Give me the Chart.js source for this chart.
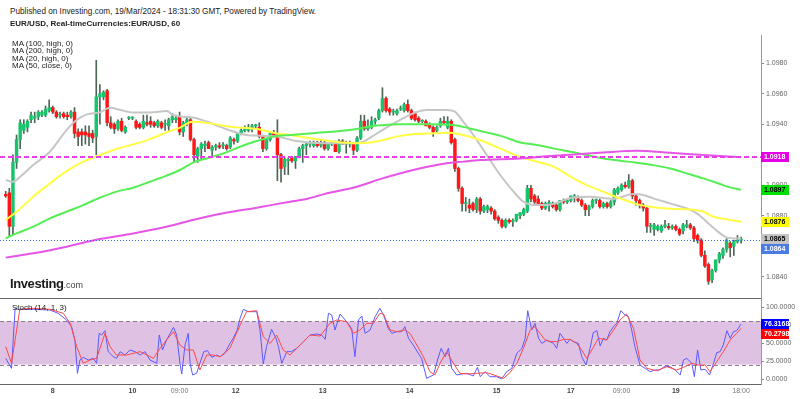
<!DOCTYPE html>
<html><head><meta charset="utf-8">
<script src="https://cdn.jsdelivr.net/npm/chart.js@4"></script>
<style>
html,body{margin:0;padding:0;background:#fff;width:800px;height:399px;overflow:hidden;font-family:Arial,"Liberation Sans",sans-serif;}
.t{position:absolute;white-space:nowrap;line-height:8px;color:#222;z-index:5;}
canvas{position:absolute;left:0;display:block;}
</style></head><body>
<canvas id="c1" width="800" height="263" style="top:35px"></canvas>
<canvas id="c2" width="800" height="101" style="top:298px"></canvas>
<div class="t" style="left:10px;top:8px;font-size:8.2px;">Published on Investing.com, 19/Mar/2024 - 18:31:30 GMT, Powered by TradingView.</div>
<div class="t" style="left:10px;top:20px;font-size:8px;font-weight:bold;">EUR/USD, Real-timeCurrencies:EUR/USD, 60</div>
<div class="t" style="left:12px;top:40px;font-size:8px;line-height:7.3px;">MA (100, high, 0)<br>MA (200, high, 0)<br>MA (20, high, 0)<br>MA (50, close, 0)</div>
<div class="t" style="left:10px;top:276px;line-height:13px;"><span style="font-size:13px;font-weight:bold;letter-spacing:-0.4px;color:#1a1a1a;">Investing</span><span style="font-size:9px;color:#444;">.com</span></div>
<div class="t" style="left:12px;top:304px;font-size:8px;">Stoch (14, 1, 3)</div>
<script>
// ---- candles (hourly EUR/USD) ----
const open = [1.0894,1.0895,1.0873,1.0915,1.0930,1.0936,1.0938,1.0943,1.0944,1.0945,
1.0946,1.0946,1.0949,1.0951,1.0948,1.0946,1.0947,1.0946,1.0945,1.0948,
1.0935,1.0935,1.0935,1.0934,1.0934,1.0932,1.0958,1.0958,1.0962,1.0941,
1.0940,1.0937,1.0942,1.0935,1.0944,1.0944,1.0942,1.0940,1.0938,1.0941,
1.0942,1.0941,1.0939,1.0941,1.0940,1.0939,1.0943,1.0943,1.0945,1.0935,
1.0941,1.0943,1.0930,1.0919,1.0924,1.0926,1.0928,1.0923,1.0925,1.0926,
1.0926,1.0926,1.0925,1.0930,1.0929,1.0934,1.0936,1.0936,1.0937,1.0939,
1.0938,1.0932,1.0924,1.0930,1.0934,1.0933,1.0920,1.0912,1.0916,1.0918,
1.0916,1.0919,1.0924,1.0926,1.0927,1.0926,1.0928,1.0926,1.0928,1.0924,
1.0927,1.0928,1.0922,1.0929,1.0927,1.0927,1.0927,1.0923,1.0931,1.0942,
1.0937,1.0938,1.0942,1.0944,1.0949,1.0957,1.0950,1.0948,1.0947,1.0950,
1.0949,1.0953,1.0949,1.0947,1.0944,1.0942,1.0942,1.0940,1.0938,1.0936,
1.0939,1.0942,1.0938,1.0942,1.0930,1.0911,1.0898,1.0888,1.0887,1.0888,
1.0884,1.0891,1.0883,1.0884,1.0885,1.0883,1.0879,1.0877,1.0873,1.0877,
1.0876,1.0877,1.0880,1.0881,1.0883,1.0898,1.0893,1.0891,1.0888,1.0885,
1.0888,1.0888,1.0887,1.0884,1.0890,1.0889,1.0890,1.0892,1.0891,1.0890,
1.0887,1.0884,1.0886,1.0890,1.0890,1.0886,1.0888,1.0886,1.0889,1.0895,
1.0897,1.0900,1.0899,1.0903,1.0893,1.0890,1.0887,1.0885,1.0873,1.0871,
1.0871,1.0870,1.0873,1.0873,1.0872,1.0873,1.0871,1.0870,1.0873,1.0874,
1.0872,1.0867,1.0864,1.0854,1.0848,1.0838,1.0844,1.0851,1.0854,1.0858,
1.0862,1.0860,1.0863,1.0864];
const high = [1.0896,1.0898,1.0920,1.0933,1.0943,1.0943,1.0943,1.0948,1.0948,1.0949,
1.0949,1.0952,1.0956,1.0952,1.0949,1.0948,1.0948,1.0948,1.0949,1.0951,
1.0937,1.0937,1.0939,1.0939,1.0936,1.0982,1.0966,1.0962,1.0963,1.0945,
1.0941,1.0943,1.0944,1.0939,1.0945,1.0945,1.0943,1.0941,1.0946,1.0946,
1.0945,1.0942,1.0943,1.0942,1.0943,1.0944,1.0947,1.0946,1.0948,1.0942,
1.0944,1.0944,1.0931,1.0925,1.0928,1.0929,1.0929,1.0926,1.0927,1.0928,
1.0928,1.0927,1.0932,1.0931,1.0934,1.0937,1.0939,1.0940,1.0940,1.0940,
1.0941,1.0933,1.0930,1.0935,1.0936,1.0943,1.0921,1.0918,1.0918,1.0918,
1.0919,1.0925,1.0927,1.0928,1.0929,1.0929,1.0929,1.0930,1.0929,1.0927,
1.0929,1.0929,1.0930,1.0930,1.0929,1.0929,1.0928,1.0932,1.0946,1.0946,
1.0943,1.0945,1.0944,1.0950,1.0964,1.0958,1.0951,1.0950,1.0950,1.0952,
1.0954,1.0956,1.0950,1.0948,1.0945,1.0943,1.0943,1.0941,1.0939,1.0939,
1.0944,1.0945,1.0945,1.0943,1.0931,1.0912,1.0899,1.0892,1.0891,1.0889,
1.0892,1.0892,1.0887,1.0887,1.0886,1.0884,1.0880,1.0878,1.0878,1.0878,
1.0878,1.0881,1.0882,1.0885,1.0900,1.0900,1.0894,1.0893,1.0889,1.0889,
1.0890,1.0889,1.0888,1.0890,1.0891,1.0891,1.0893,1.0894,1.0893,1.0891,
1.0888,1.0887,1.0891,1.0891,1.0891,1.0889,1.0889,1.0890,1.0898,1.0899,
1.0901,1.0902,1.0907,1.0904,1.0894,1.0891,1.0888,1.0886,1.0875,1.0875,
1.0874,1.0874,1.0877,1.0875,1.0874,1.0874,1.0872,1.0875,1.0877,1.0875,
1.0873,1.0868,1.0865,1.0857,1.0849,1.0845,1.0851,1.0856,1.0859,1.0865,
1.0863,1.0864,1.0867,1.0866];
const low = [1.0892,1.0867,1.0868,1.0911,1.0924,1.0934,1.0935,1.0941,1.0941,1.0943,
1.0945,1.0945,1.0948,1.0947,1.0944,1.0944,1.0944,1.0943,1.0944,1.0931,
1.0926,1.0926,1.0927,1.0926,1.0928,1.0920,1.0940,1.0956,1.0939,1.0937,
1.0934,1.0936,1.0935,1.0934,1.0943,1.0943,1.0937,1.0937,1.0937,1.0939,
1.0938,1.0938,1.0938,1.0937,1.0936,1.0936,1.0941,1.0941,1.0933,1.0932,
1.0939,1.0929,1.0915,1.0915,1.0917,1.0922,1.0924,1.0919,1.0923,1.0924,
1.0924,1.0923,1.0924,1.0927,1.0928,1.0933,1.0935,1.0935,1.0935,1.0937,
1.0931,1.0922,1.0923,1.0929,1.0932,1.0903,1.0902,1.0907,1.0907,1.0915,
1.0911,1.0918,1.0915,1.0920,1.0925,1.0925,1.0925,1.0925,1.0923,1.0923,
1.0926,1.0922,1.0921,1.0927,1.0921,1.0925,1.0920,1.0922,1.0930,1.0936,
1.0936,1.0937,1.0940,1.0943,1.0948,1.0948,1.0946,1.0946,1.0946,1.0949,
1.0948,1.0948,1.0943,1.0942,1.0941,1.0941,1.0939,1.0937,1.0932,1.0935,
1.0938,1.0940,1.0937,1.0927,1.0909,1.0896,1.0883,1.0883,1.0882,1.0883,
1.0882,1.0881,1.0882,1.0882,1.0881,1.0877,1.0875,1.0872,1.0872,1.0875,
1.0873,1.0876,1.0878,1.0880,1.0882,1.0889,1.0888,1.0887,1.0884,1.0884,
1.0883,1.0885,1.0883,1.0883,1.0888,1.0888,1.0889,1.0889,1.0889,1.0886,
1.0880,1.0880,1.0885,1.0888,1.0885,1.0885,1.0885,1.0885,1.0887,1.0894,
1.0896,1.0898,1.0898,1.0891,1.0887,1.0885,1.0883,1.0869,1.0869,1.0867,
1.0870,1.0869,1.0872,1.0871,1.0871,1.0870,1.0867,1.0868,1.0872,1.0871,
1.0863,1.0862,1.0853,1.0846,1.0835,1.0836,1.0843,1.0849,1.0852,1.0856,
1.0853,1.0854,1.0862,1.0862];
const close = [1.0893,1.0873,1.0915,1.0930,1.0941,1.0940,1.0942,1.0946,1.0945,1.0948,
1.0948,1.0950,1.0951,1.0948,1.0945,1.0946,1.0945,1.0945,1.0948,1.0934,
1.0932,1.0933,1.0933,1.0932,1.0931,1.0958,1.0960,1.0961,1.0941,1.0938,
1.0937,1.0942,1.0936,1.0938,1.0944,1.0944,1.0938,1.0938,1.0942,1.0940,
1.0940,1.0939,1.0942,1.0938,1.0940,1.0943,1.0945,1.0944,1.0935,1.0941,
1.0943,1.0930,1.0920,1.0924,1.0927,1.0927,1.0924,1.0925,1.0926,1.0925,
1.0926,1.0924,1.0931,1.0929,1.0934,1.0936,1.0938,1.0938,1.0939,1.0939,
1.0932,1.0924,1.0930,1.0934,1.0933,1.0920,1.0911,1.0917,1.0917,1.0916,
1.0919,1.0924,1.0926,1.0927,1.0927,1.0928,1.0926,1.0928,1.0924,1.0927,
1.0928,1.0922,1.0929,1.0927,1.0928,1.0927,1.0923,1.0931,1.0942,1.0937,
1.0938,1.0942,1.0943,1.0949,1.0957,1.0949,1.0948,1.0948,1.0949,1.0950,
1.0953,1.0949,1.0944,1.0943,1.0942,1.0942,1.0939,1.0938,1.0935,1.0938,
1.0942,1.0941,1.0942,1.0928,1.0911,1.0898,1.0888,1.0888,1.0885,1.0884,
1.0891,1.0883,1.0886,1.0886,1.0883,1.0878,1.0877,1.0873,1.0877,1.0876,
1.0877,1.0881,1.0882,1.0884,1.0898,1.0891,1.0889,1.0888,1.0885,1.0888,
1.0888,1.0886,1.0884,1.0890,1.0889,1.0890,1.0893,1.0893,1.0890,1.0887,
1.0884,1.0886,1.0890,1.0890,1.0886,1.0888,1.0886,1.0889,1.0897,1.0898,
1.0900,1.0899,1.0903,1.0893,1.0890,1.0887,1.0885,1.0873,1.0873,1.0874,
1.0873,1.0873,1.0874,1.0872,1.0873,1.0871,1.0868,1.0874,1.0874,1.0872,
1.0865,1.0864,1.0854,1.0847,1.0837,1.0844,1.0851,1.0855,1.0858,1.0864,
1.0859,1.0863,1.0864,1.0864];

// ---- moving averages (bar position, value) ----
const ma20Idx = [0,2,4,7.6,12.2,16.8,19.6,22.4,26,28.8,31.6,35.2,39.8,44.5,46.3,50,52,56.4,61.9,66.5,70.2,74.8,80.3,87.7,95,98.7,101.5,103.5,108,112.5,116.2,121.8,124,126.3,129.1,132.8,136.5,140.2,142.9,145.7,149.4,153,156.5,161.3,167.7,173.3,176,178.8,183.4,188,190.8,194.5,197.2,199,203];
const ma20 = [1.09034,1.09023,1.09056,1.09133,1.0922,1.09362,1.09428,1.09465,1.09478,1.09509,1.09494,1.09478,1.09478,1.09487,1.0946,1.09448,1.09443,1.0941,1.0936,1.0933,1.09325,1.0932,1.0929,1.09275,1.09275,1.09286,1.09325,1.09355,1.09417,1.09472,1.09494,1.09494,1.09483,1.09417,1.0933,1.09198,1.09067,1.08958,1.08892,1.0887,1.0887,1.08892,1.0892,1.08925,1.0891,1.08942,1.08936,1.08914,1.08881,1.08848,1.08815,1.08739,1.08684,1.08658,1.0865];
const ma50Idx = [0,3,7.6,12.2,16.8,21.4,26,30.6,35.2,39.8,44.4,48.1,51.5,56.4,61.9,69.3,74.8,78.5,84,89.5,93.2,96.9,100.6,104,107.9,112.5,117.1,122.6,125.4,130.9,136.4,142,146.6,151.2,156.5,160.4,165,169.6,174.2,178.8,183.4,188.9,192.6,195.4,199.1,203];
const ma50 = [1.08772,1.08826,1.08925,1.09012,1.09093,1.09155,1.09198,1.09238,1.09268,1.09303,1.09347,1.09378,1.09417,1.09406,1.09384,1.09369,1.0934,1.0933,1.09308,1.0929,1.0928,1.09275,1.0928,1.09295,1.09319,1.09334,1.0934,1.09345,1.09334,1.09297,1.09242,1.09187,1.09155,1.09122,1.09048,1.09001,1.08957,1.08914,1.08876,1.08855,1.08846,1.08841,1.08826,1.08793,1.08776,1.0876];
const ma100Idx = [0,3,7.6,12.2,16.8,21.4,26,30.6,35.2,39.8,44.4,48.1,52,55.5,60.1,64.7,69.3,73.9,78.5,83.1,87.7,92.3,96.9,101.5,104.5,107.9,112.5,117.1,123.5,128.1,132.7,137.3,142,146.6,151.2,156.5,160.4,165,169.6,174.2,178.8,183.4,188,192.6,197.2,200,203];
const ma100 = [1.08652,1.08684,1.08728,1.08783,1.08826,1.0887,1.08918,1.08958,1.08984,1.09023,1.09063,1.091,1.09152,1.09176,1.09209,1.09253,1.0929,1.09319,1.0933,1.09338,1.09347,1.09356,1.09369,1.09389,1.09395,1.094,1.094,1.094,1.09395,1.09373,1.09347,1.09319,1.09281,1.09264,1.09242,1.09218,1.09198,1.09176,1.09161,1.09148,1.09132,1.0911,1.09078,1.09045,1.09008,1.08986,1.0897];
const ma200Idx = [0,7.6,16.8,26,35.2,44.4,52,60.1,69.3,78.5,83.1,87.7,96.9,104,112.5,121.7,126.3,130.9,142,151.2,157,165,174.2,183.4,192.6,203];
const ma200 = [1.08525,1.08553,1.08597,1.08647,1.08684,1.08728,1.08774,1.08816,1.08853,1.08892,1.0891,1.0894,1.0899,1.09045,1.091,1.09144,1.09155,1.09165,1.09176,1.09194,1.09202,1.09215,1.09226,1.09213,1.09198,1.09183];

// ---- stochastic (14,1,3) ----
const stochKIdx = [0,1.6,2.6,3.5,7.6,12.2,14.5,16.8,18.2,19.1,19.8,20.5,21.4,22.8,24.2,25.1,25.8,26.5,27.4,28.3,29.7,30.6,31.6,32.9,34.3,35.7,37.1,38.5,39.8,41.7,42.4,43.3,44.4,45.4,46.3,47.2,48.1,48.6,49.5,50.4,50.9,51.6,52.7,53.6,54.7,55.7,56.9,58.2,59.2,60.5,61.9,62.8,63.9,64.7,65.6,67,69.3,70.2,71.1,72,73.4,74.6,75.3,76.2,77.6,78.9,80.3,82.2,84,85.9,87.2,88.2,89.1,90,90.9,92.3,93.7,95.5,96.4,97.4,98.3,99.2,100.6,102,103.3,104.3,105.6,106.6,107.9,109.3,110.2,111.2,112.5,113.9,114.8,116.2,117.1,118.1,119.2,120.2,121.3,122.2,123.1,124.5,125.9,127.3,129.1,130.2,131,132.3,133.7,135.6,136.9,138.3,139.7,141.1,142.5,143.4,144.1,145.2,146.1,147.1,148,149.4,151.2,152.1,153,154,154.9,155.8,156.7,158.1,159,160.2,161.3,162.2,163.2,164.1,165,165.9,166.8,167.8,168.7,169.8,171,171.9,172.8,173.7,175.1,176.5,177.9,179.3,180.6,182,183.4,184.8,186.2,187.1,188,189.4,190.1,191,191.9,193.1,194.3,195.4,196.3,197.2,198.1,199.1,200,200.9,201.8,203];
const stochK = [28.7,14.8,98.1,96.8,96.8,95.8,91.2,82,72.7,54.2,7.9,26.4,30.1,26.4,28.7,21.8,63.4,61.1,67.1,38,31,28.7,38,33.3,40.3,38,33.3,38,26.4,21.8,61.1,40.3,54.2,63.4,71.8,61.1,21.8,7,47.2,63.4,21.8,5.6,7.9,21.8,38,39.4,30.1,33.3,31,35.7,49.5,56.5,68.1,84.3,96.8,93.5,93.5,68.1,20.8,44.9,69,56.5,44.9,21.8,38,38,42.6,51.9,61.1,62.5,61.1,55.1,91.2,88.9,68.1,90.3,82,70.4,31,82,87.5,63.4,68.1,86.6,98.1,88.9,70.4,63.4,65.7,65.7,72.7,56.5,47.2,35.7,28.7,0.9,3.2,5.6,26.4,42.6,31,42.6,14.8,5.6,7,7.9,4.2,16.2,3.2,10.2,3.2,3.2,0,10.2,14.8,35.7,42.6,56.5,94.9,68.1,77.3,56.5,49.5,54.2,49.5,42.6,63.4,56.5,49.5,55.1,51.9,49.5,31,19.4,42.6,64.4,67.1,45.8,56.5,54.2,65.7,72.7,77.3,94.9,88.9,86.6,68.1,44.9,19.4,14.8,10.2,12.5,12.5,18.1,17.1,12.5,5.6,26.4,28.7,21.8,3.2,40.3,12.5,13.4,5.6,21.8,36.6,38,47.2,67.1,56.5,65.7,67.1,76.3168];
const stochDIdx = [0,1.6,3.9,7.6,12.2,15.9,17.8,19.6,21.4,23.3,25.1,27.4,28.8,30.6,33.4,37.1,40.8,42.6,44.4,46.3,48.1,50,51.8,53.6,55.5,57.3,59.2,61.9,64.7,66.5,69.3,71.1,73,74.8,76.6,78.5,81.3,84,86.8,89.5,91.4,94.1,96,97.8,99.7,101.5,103.3,104.3,106.1,107.9,110.2,111.6,113.5,115.3,117.1,118.5,119.9,121.7,123.6,125.4,127.3,130,132.8,135.6,137.4,139.2,141.1,142.9,144.8,146.1,147.5,148.9,150.3,152.1,154,155.8,157.6,159,160.4,161.8,163.6,165.9,167.8,169.6,171.4,173.3,175.1,177,179.7,182.5,185.2,187.1,189.4,191.2,193.1,194.4,196.3,198.1,200,201.8,203];
const stochD = [44.9,21.8,96.8,98.1,96.8,91.2,77.3,44.9,21.8,26.4,28.7,63.4,44.9,33.3,33.3,38,28.7,42.6,54.2,65.7,47.2,40.3,40.3,12.5,33.3,33.3,31,42.6,75,93.5,94.9,58.8,49.5,61.1,40.3,33.3,47.2,61.1,59.7,77.3,82,79.6,63.4,68.1,77.3,77.3,91.2,90.3,68.1,65.7,68.1,63.4,47.2,31,10.2,5.6,21.8,38,21.8,7.9,7,7.9,8.8,4.2,0.9,8.8,21.8,42.6,68.1,72.7,63.4,54.2,51.9,51.9,55.1,55.1,49.5,40.3,28.7,40.3,56.5,54.2,68.1,82,90.3,70.4,26.4,14.8,11.6,17.1,12.5,16.2,21.8,19.4,19.4,10.2,24.1,38,54.2,63.4,70.2798];
const stochBands = [20, 80];

// ---- axis ticks ----
const priceTicks = [1.0840,1.0860,1.0880,1.0900,1.0920,1.0940,1.0960,1.0980];
const stochTicks = [0,25,50,75,100];
const xTickIdx = [13,35,48,63.5,87.5,111.5,135.5,156,170,185,203];
const xTickLabels = ['8','10','09:00','12','13','14','15','17','09:00','19','18:00'];

// ---------------------------------------------------------------
const FONT = 'Arial, "Liberation Sans", sans-serif';
Chart.defaults.font.family = FONT;
const xMin = -1.574, xMax = 208.5;
const pts = (idx, vals) => idx.map((x, k) => ({x, y: vals[k]}));
const upCol = '#16c46c', dnCol = '#ff1616', wickCol = '#4d6656';
const bodyColors = open.map((o, i) => close[i] >= o ? upCol : dnCol);
const last = a => a[a.length - 1];
function noPad(s) { s.paddingTop = 0; s.paddingBottom = 0; s.paddingLeft = 0; s.paddingRight = 0; }

function drawTags(chart, scale, items) {
  const ctx = chart.ctx;
  const list = items.map(t => Object.assign({}, t, {py: scale.getPixelForValue(t.v)})).sort((a, b) => a.py - b.py);
  for (let k = 1; k < list.length; k++) if (list[k].py - list[k-1].py < 10) list[k].py = list[k-1].py + 10;
  ctx.save();
  ctx.font = 'bold 7px ' + FONT;
  ctx.textBaseline = 'middle'; ctx.textAlign = 'left';
  for (const t of list) {
    const yy = Math.round(t.py);
    ctx.fillStyle = t.bg; ctx.fillRect(scale.left, yy - 5, 28, 10);
    ctx.fillStyle = t.fg; ctx.fillText(t.v.toFixed(4), scale.left + 3, yy + 0.5);
  }
  ctx.restore();
}

const mainDeco = {
  id: 'mainDeco',
  afterDatasetsDraw(chart) {
    const {ctx, chartArea: a, scales: {y}} = chart;
    ctx.save();
    let py = Math.round(y.getPixelForValue(last(ma200)));
    ctx.strokeStyle = '#e83ee8'; ctx.lineWidth = 2; ctx.setLineDash([5, 3]);
    ctx.beginPath(); ctx.moveTo(a.left, py); ctx.lineTo(a.right, py); ctx.stroke();
    py = Math.round(y.getPixelForValue(last(close))) + 0.5;
    ctx.strokeStyle = '#3b66f0'; ctx.lineWidth = 1; ctx.setLineDash([1, 2]);
    ctx.beginPath(); ctx.moveTo(a.left, py); ctx.lineTo(a.right, py); ctx.stroke();
    ctx.restore();
  },
  afterDraw(chart) {
    drawTags(chart, chart.scales.y, [
      {v: last(ma200), bg: '#e600e6', fg: '#ffffff'},
      {v: last(ma100), bg: '#00e000', fg: '#000000'},
      {v: last(ma50), bg: '#ffff00', fg: '#000000'},
      {v: last(ma20), bg: '#c4c4c4', fg: '#000000'},
      {v: last(close), bg: '#4a7be3', fg: '#ffffff'}
    ]);
  }
};

const stochDeco = {
  id: 'stochDeco',
  beforeDatasetsDraw(chart) {
    const {ctx, chartArea: a, scales: {y}} = chart;
    const yHi = y.getPixelForValue(stochBands[1]), yLo = y.getPixelForValue(stochBands[0]);
    ctx.save();
    ctx.fillStyle = '#dfc2e3';
    ctx.fillRect(a.left, yHi, a.right - a.left, yLo - yHi);
    ctx.strokeStyle = '#8c7a8e'; ctx.lineWidth = 1; ctx.setLineDash([4, 3]);
    [yHi, yLo].forEach(p => { const q = Math.round(p) + 0.5; ctx.beginPath(); ctx.moveTo(a.left, q); ctx.lineTo(a.right, q); ctx.stroke(); });
    ctx.restore();
  },
  afterDraw(chart) {
    const {ctx, chartArea: a} = chart;
    ctx.save(); ctx.strokeStyle = '#666'; ctx.lineWidth = 1;
    ctx.beginPath(); ctx.moveTo(0, a.top + 0.5); ctx.lineTo(a.right, a.top + 0.5); ctx.stroke();
    ctx.restore();
    drawTags(chart, chart.scales.y, [
      {v: last(stochK), bg: '#0000ff', fg: '#ffffff'},
      {v: last(stochD), bg: '#ff0000', fg: '#ffffff'}
    ]);
  }
};

const yAxisCommon = {
  position: 'right', bounds: 'data', beginAtZero: false,
  afterFit(s) { s.width = 39; noPad(s); },
  grid: {drawOnChartArea: false, drawTicks: true, tickLength: 3, color: '#888'},
  border: {display: true, color: '#999'},
  ticks: {font: {size: 7}, color: '#666', padding: 2, callback: v => Number(v).toFixed(4)}
};

new Chart(document.getElementById('c1'), {
  type: 'bar',
  data: {datasets: [
    {type: 'line', data: pts(ma200Idx, ma200), borderColor: '#e655e6', borderWidth: 2, pointRadius: 0, cubicInterpolationMode: 'monotone', order: 1},
    {type: 'line', data: pts(ma100Idx, ma100), borderColor: '#55ee55', borderWidth: 2, pointRadius: 0, cubicInterpolationMode: 'monotone', order: 1},
    {type: 'line', data: pts(ma50Idx, ma50), borderColor: '#ffff44', borderWidth: 2, pointRadius: 0, cubicInterpolationMode: 'monotone', order: 1},
    {type: 'line', data: pts(ma20Idx, ma20), borderColor: '#c6c6c6', borderWidth: 2, pointRadius: 0, cubicInterpolationMode: 'monotone', order: 1},
    {data: low.map((l, i) => ({x: i, y: [l, high[i]]})), backgroundColor: wickCol, barThickness: 1, grouped: false, order: 3},
    {data: open.map((o, i) => ({x: i, y: [o, close[i]]})), backgroundColor: bodyColors, barThickness: 2.8, minBarLength: 1, grouped: false, order: 2}
  ]},
  options: {
    responsive: false, animation: false, events: [],
    layout: {padding: 0, autoPadding: false},
    plugins: {legend: {display: false}, tooltip: {enabled: false}},
    scales: {
      x: {type: 'linear', min: xMin, max: xMax, offset: false, bounds: 'data', display: false},
      y: Object.assign({}, yAxisCommon, {min: 1.0826, max: 1.09986,
        afterBuildTicks(s) { s.ticks = priceTicks.map(v => ({value: v})); }})
    }
  },
  plugins: [mainDeco]
});

new Chart(document.getElementById('c2'), {
  type: 'line',
  data: {datasets: [
    {data: pts(stochDIdx, stochD), borderColor: '#ff4a4a', borderWidth: 1, pointRadius: 0, tension: 0},
    {data: pts(stochKIdx, stochK), borderColor: '#5a5aff', borderWidth: 1, pointRadius: 0, tension: 0}
  ]},
  options: {
    responsive: false, animation: false, events: [],
    layout: {padding: 0, autoPadding: false},
    plugins: {legend: {display: false}, tooltip: {enabled: false}},
    scales: {
      x: {type: 'linear', min: xMin, max: xMax, offset: false, bounds: 'data',
        afterFit(s) { s.height = 15; noPad(s); },
        afterBuildTicks(s) { s.ticks = xTickIdx.map(v => ({value: v})); },
        grid: {display: true, drawOnChartArea: false, drawTicks: false},
        border: {display: true, color: '#666'},
        ticks: {autoSkip: false, maxRotation: 0, minRotation: 0, padding: 3,
          font: c => ({size: 7, weight: (xTickLabels[c.index] || '').includes(':') ? 'normal' : 'bold'}),
          color: c => (xTickLabels[c.index] || '').includes(':') ? '#777' : '#444',
          callback: (v, i) => xTickLabels[i]}
      },
      y: Object.assign({}, yAxisCommon, {min: -6.94, max: 112.5,
        afterBuildTicks(s) { s.ticks = stochTicks.map(v => ({value: v})); }})
    }
  },
  plugins: [stochDeco]
});
</script>
</body></html>
